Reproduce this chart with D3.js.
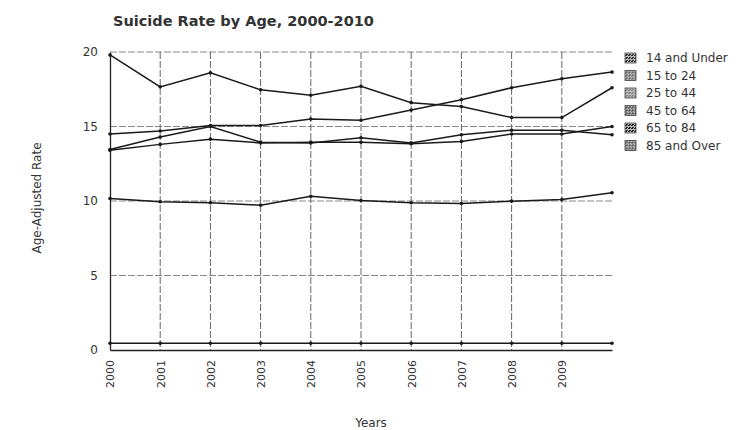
<!DOCTYPE html>
<html>
<head>
<meta charset="utf-8">
<script src="https://cdn.jsdelivr.net/npm/d3@7"></script>
<style>
  html, body { margin: 0; padding: 0; background: #fff; }
  svg { display: block; }
  text { font-family: "DejaVu Sans", Verdana, sans-serif; fill: #333; }
</style>
</head>
<body>
<svg id="chart" width="736" height="430"></svg>
<script>
// ---- data ----
const years = [2000, 2001, 2002, 2003, 2004, 2005, 2006, 2007, 2008, 2009, 2010];
const tickYears = [2000, 2001, 2002, 2003, 2004, 2005, 2006, 2007, 2008, 2009];
const yTicks = [0, 5, 10, 15, 20];
const seriesNames = ["14 and Under", "15 to 24", "25 to 44", "45 to 64", "65 to 84", "85 and Over"];
const under14   = [0.45, 0.45, 0.45, 0.45, 0.45, 0.45, 0.45, 0.45, 0.45, 0.45, 0.45];
const age15to24 = [10.17, 9.95, 9.88, 9.72, 10.32, 10.03, 9.88, 9.83, 9.99, 10.1, 10.55];
const age25to44 = [13.4, 13.8, 14.15, 13.9, 13.95, 13.95, 13.85, 14.0, 14.5, 14.5, 15.0];
const age45to64 = [14.5, 14.7, 15.07, 15.07, 15.5, 15.42, 16.1, 16.8, 17.6, 18.2, 18.65];
const age65to84 = [13.45, 14.3, 15.0, 13.95, 13.9, 14.25, 13.9, 14.45, 14.75, 14.75, 14.45];
const age85over = [19.8, 17.66, 18.6, 17.46, 17.1, 17.7, 16.6, 16.34, 15.6, 15.6, 17.6];
const seriesValues = [under14, age15to24, age25to44, age45to64, age65to84, age85over];

// ---- layout ----
const svg = d3.select("#chart");
const x = d3.scalePoint().domain(years).range([110, 612]);
const y = d3.scaleLinear().domain([0, 20]).range([350, 52]);

// patterns for legend swatches
const defs = svg.append("defs");
const shades = ["#333", "#666", "#888", "#444", "#222", "#555"];
shades.forEach((c, i) => {
  const p = defs.append("pattern").attr("id", "pat" + i)
    .attr("width", 3).attr("height", 3).attr("patternUnits", "userSpaceOnUse");
  p.append("rect").attr("width", 3).attr("height", 3).attr("fill", "#bbb");
  p.append("rect").attr("width", 2).attr("height", 1).attr("fill", c);
  p.append("rect").attr("x", 1).attr("y", 2).attr("width", 2).attr("height", 1).attr("fill", c);
});

// title
svg.append("text").attr("x", 113).attr("y", 26)
  .style("font-size", "14.5px").style("font-weight", "bold").style("fill", "#333")
  .text("Suicide Rate by Age, 2000-2010");

// gridlines
const grid = svg.append("g");
grid.selectAll("line.h").data(yTicks.filter(d => d > 0)).join("line")
  .attr("x1", 110).attr("x2", 612)
  .attr("y1", d => y(d)).attr("y2", d => y(d))
  .attr("stroke", "#888").attr("stroke-width", 1).attr("stroke-dasharray", "7,2");
grid.selectAll("line.v").data(years.slice(1, 10)).join("line")
  .attr("x1", d => x(d)).attr("x2", d => x(d))
  .attr("y1", y(20)).attr("y2", y(0))
  .attr("stroke", "#666").attr("stroke-width", 1).attr("stroke-dasharray", "7,2");

// axes
const yAxis = d3.axisLeft(y).tickValues(yTicks).tickSize(0).tickPadding(12);
const gy = svg.append("g").attr("transform", "translate(110,0)").call(yAxis);
gy.select(".domain").attr("stroke", "#222").attr("stroke-width", 1.3);
gy.selectAll("text").style("font-size", "12px").style("fill", "#333");

const xAxis = d3.axisBottom(x).tickValues(tickYears).tickSize(0).tickPadding(0);
const gx = svg.append("g").attr("transform", "translate(0,350)").call(xAxis);
gx.select(".domain").attr("stroke", "#222").attr("stroke-width", 1.3);
gx.selectAll("text")
  .style("font-size", "11px").style("fill", "#333")
  .attr("text-anchor", "end")
  .attr("transform", "rotate(-90)")
  .attr("x", -10).attr("y", 0).attr("dy", "0.35em");

// axis titles
svg.append("text").attr("x", 371).attr("y", 427).attr("text-anchor", "middle")
  .style("font-size", "12px").text("Years");
svg.append("text").attr("transform", "translate(41,198) rotate(-90)").attr("text-anchor", "middle")
  .style("font-size", "12px").text("Age-Adjusted Rate");

// lines
const line = d3.line().x((d, i) => x(years[i])).y(d => y(d));
const gl = svg.append("g");
seriesValues.forEach((vals, s) => {
  gl.append("path").datum(vals).attr("d", line)
    .attr("fill", "none").attr("stroke", "#1a1a1a").attr("stroke-width", 1.5);
  gl.selectAll(null).data(vals).join("circle")
    .attr("cx", (d, i) => x(years[i])).attr("cy", d => y(d)).attr("r", 1.8)
    .attr("fill", "#1a1a1a");
});

// legend
const lg = svg.append("g").attr("transform", "translate(625,58)");
seriesNames.forEach((name, i) => {
  const row = lg.append("g").attr("transform", `translate(0,${i * 17.5})`);
  row.append("rect").attr("x", 0).attr("y", -5).attr("width", 11).attr("height", 10)
    .attr("fill", `url(#pat${i})`).attr("stroke", "#444").attr("stroke-width", 0.8);
  row.append("text").attr("x", 21).attr("y", 0).attr("dy", "0.35em")
    .style("font-size", "12px").style("fill", "#333").text(name);
});
</script>
</body>
</html>
